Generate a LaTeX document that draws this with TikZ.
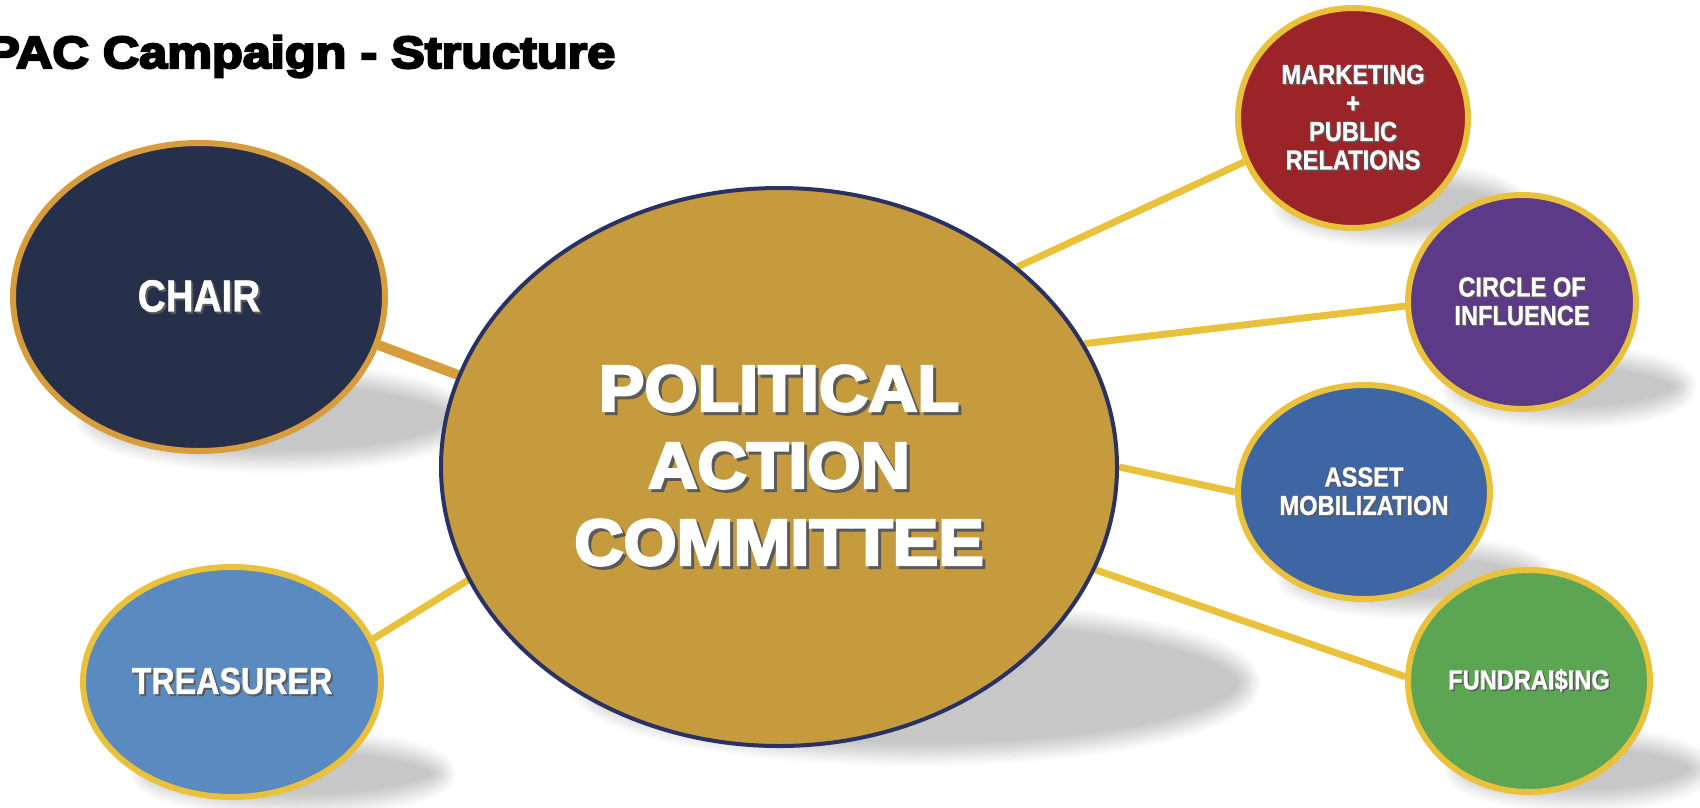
\documentclass[tikz,border=0pt]{standalone}
\usepackage{fontspec}
\setmainfont{Liberation Sans}
\newfontfamily\lblfont[FakeStretch=0.86,FakeBold=1]{Liberation Sans Bold}
\newfontfamily\bigfont[FakeStretch=1.05,FakeBold=4]{Liberation Sans Bold}
\newfontfamily\titlefont[FakeStretch=1.12,FakeBold=5]{Liberation Sans Bold}
\usetikzlibrary{shapes.geometric,shadows.blur}
\definecolor{mainfill}{HTML}{C59B3D}
\definecolor{mainborder}{HTML}{2A3263}
\definecolor{chairfill}{HTML}{26304A}
\definecolor{chairborder}{HTML}{D79C3B}
\definecolor{ybord}{HTML}{EAC13A}
\definecolor{treasfill}{HTML}{5A8ABF}
\definecolor{mktfill}{HTML}{9A2428}
\definecolor{circfill}{HTML}{5C3A87}
\definecolor{assetfill}{HTML}{3F66A4}
\definecolor{fundfill}{HTML}{5BA553}
\definecolor{txtsh}{HTML}{5A5A5A}
\newcommand\shd[2]{\leavevmode\rlap{\hspace{#1}\raisebox{-#1}{\textcolor{txtsh}{#2}}}#2}
\pgfdeclarelayer{shd}
\pgfdeclarelayer{bg}
\pgfsetlayers{shd,bg,main}
\tikzset{
  bubble/.style={ellipse, inner sep=0pt, line width=6pt, draw=ybord, text=white, align=center},
  small/.style={font=\lblfont\fontsize{27.5}{28.5}\selectfont},
  link/.style={line width=7pt, draw=ybord},
  chairlink/.style={line width=10pt, draw=chairborder},
  shadowblob/.style={blur shadow={shadow xshift=0pt, shadow yshift=0pt, shadow blur radius=12pt, shadow blur steps=14, shadow opacity=22}}
}
\begin{document}
\begin{tikzpicture}[x=1pt,y=-1pt]
\useasboundingbox (0,0) rectangle (1700,807);

% title
\node[anchor=base west, inner sep=0pt, font=\titlefont\fontsize{45}{50}\selectfont] (title) at (-14,68) {PAC Campaign - Structure};

% shadows
\begin{pgfonlayer}{shd}
\path[shadowblob] (275,418) ellipse [x radius=189, y radius=44];
\path[shadowblob] (915,683) ellipse [x radius=335, y radius=72];
\path[shadowblob] (293,773) ellipse [x radius=152, y radius=33];
\path[shadowblob] (1400,205) ellipse [x radius=118, y radius=32];
\path[shadowblob] (1569,387) ellipse [x radius=117, y radius=31];
\path[shadowblob] (1416,577) ellipse [x radius=129, y radius=31];
\path[shadowblob] (1579,769) ellipse [x radius=124, y radius=32];
\end{pgfonlayer}

% nodes
\node[bubble, fill=mainfill, draw=mainborder, line width=4pt, minimum width=676pt, minimum height=558pt,
      font=\bigfont\fontsize{65}{77}\selectfont] (main) at (779,467)
  {\shd{3pt}{POLITICAL}\\\shd{3pt}{ACTION}\\\shd{3pt}{COMMITTEE}};
\node[bubble, fill=chairfill, draw=chairborder, minimum width=372pt, minimum height=308pt,
      font=\lblfont\fontsize{45}{50}\selectfont] (chair) at (199,297) {\shd{2pt}{CHAIR}};
\node[bubble, fill=treasfill, minimum width=298pt, minimum height=230pt,
      font=\lblfont\fontsize{37.5}{42}\selectfont] (treas) at (232,682) {\shd{2pt}{TREASURER}};
\node[bubble, small, fill=mktfill, minimum width=230pt, minimum height=220pt] (mkt) at (1353,118)
  {\shd{1.5pt}{MARKETING}\\\shd{1.5pt}{+}\\\shd{1.5pt}{PUBLIC}\\\shd{1.5pt}{RELATIONS}};
\node[bubble, small, fill=circfill, minimum width=228pt, minimum height=214pt] (circ) at (1522,302)
  {\shd{1.5pt}{CIRCLE OF}\\\shd{1.5pt}{INFLUENCE}};
\node[bubble, small, fill=assetfill, minimum width=252pt, minimum height=214pt] (asset) at (1364,492)
  {\shd{1.5pt}{ASSET}\\\shd{1.5pt}{MOBILIZATION}};
\node[bubble, small, fill=fundfill, minimum width=242pt, minimum height=222pt] (fund) at (1529,681)
  {\shd{1.5pt}{FUNDRAI\$ING}};

% connectors
\begin{pgfonlayer}{bg}
\draw[chairlink] (chair.-15.4) -- (main.164.8);
\draw[link] (treas.17.8) -- (main.200.9);
\draw[link] (main.40) -- (mkt.202);
\draw[link] (main.22.5) -- (circ.182);
\draw[link] (main.-0.5) -- (asset.180);
\draw[link] (main.-18.8) -- (fund.178);
\end{pgfonlayer}
\end{tikzpicture}
\end{document}
